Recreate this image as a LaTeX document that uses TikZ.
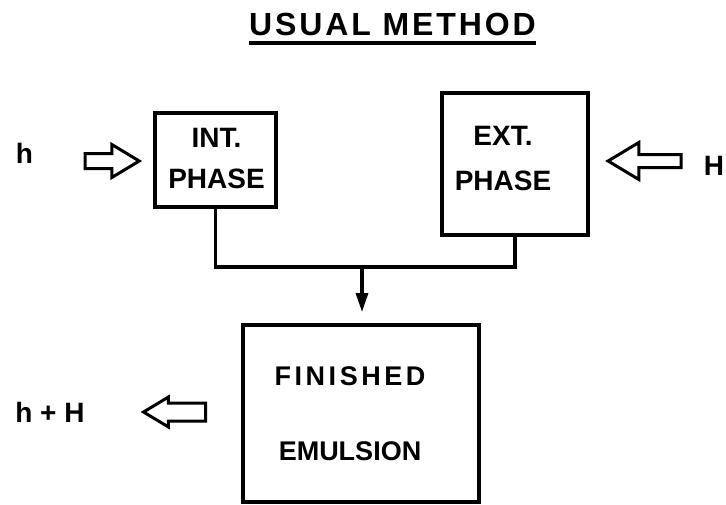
\documentclass[tikz,border=0pt]{standalone}
\usepackage{fontspec}
\setmainfont{Liberation Sans}
\usetikzlibrary{shapes,arrows,positioning,calc,arrows.meta}

\begin{document}
\begin{tikzpicture}[
    x=1pt, y=-1pt,
    outer sep=0pt,
    box/.style={draw, rectangle, line width=3.2pt, inner sep=0pt},
    txt/.style={align=center, inner sep=0pt, font=\bfseries\fontsize{28}{41}\selectfont},
    lbl/.style={inner sep=0pt, font=\bfseries\fontsize{28}{34}\selectfont},
    wire/.style={line width=3.2pt},
    fat/.style={single arrow, draw, line width=3pt, inner xsep=0pt, single arrow tip angle=62}
]
    \useasboundingbox (0,0) rectangle (726,504);

    % title
    \node [anchor=base, inner sep=0pt, font=\bfseries\fontsize{32}{38}\selectfont\addfontfeature{LetterSpace=9}] (title) at (392.5,35) {USUAL METHOD};
    \draw [line width=3.2pt] ([yshift=-8pt]title.base west) -- ([yshift=-8pt]title.base east);

    % phases
    \node [box, minimum width=121pt, minimum height=94pt] (int) at (215.5,160) {};
    \node [txt, anchor=base] (inttxt) at (216.5,188) {INT.\\PHASE};
    \node [box, minimum width=146pt, minimum height=142pt] (ext) at (515,164) {};
    \node [txt, anchor=base] (exttxt) at (503,190) {EXT.\\[4pt]PHASE};
    \node [box, minimum width=236pt, minimum height=177pt] (fin) at (361,413.5) {};
    \node [txt, anchor=base, font=\bfseries\fontsize{27}{75}\selectfont] (fintxt) at (350,460) {{\addfontfeature{LetterSpace=13}FINISHED}\\EMULSION};

    % heat
    \node [lbl, anchor=base] (h) at (24.5,163) {h};
    \node [fat, inner ysep=6pt, single arrow head extend=9pt, minimum height=54pt] (hin) at (106,161) {};
    \node [lbl, anchor=base] (H) at (714,175) {H};
    \node [fat, shape border rotate=180, inner ysep=5pt, single arrow head extend=12pt, minimum height=73pt] (Hin) at (650,161) {};
    \node [lbl, anchor=base] (hH) at (50,422) {h + H};
    \node [fat, shape border rotate=180, inner ysep=7.5pt, single arrow head extend=6pt, minimum height=62pt] (hout) at (182,412) {};

    % mixing
    \coordinate (join) at (362,267);
    \draw [wire] (int.south) |- (join) -| (ext.south);
    \draw [wire, -{Triangle[length=19pt, width=12pt]}, shorten >=13pt] (join) -- (fin.north -| join);
\end{tikzpicture}
\end{document}
